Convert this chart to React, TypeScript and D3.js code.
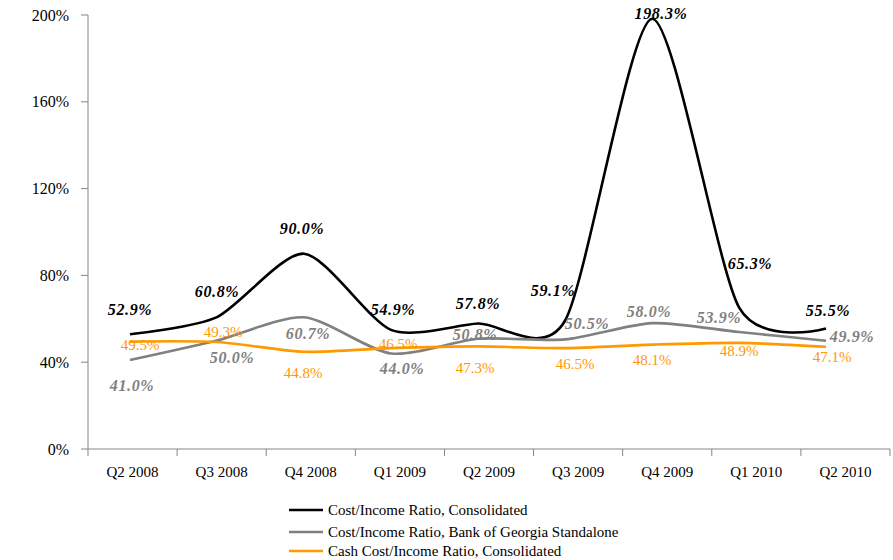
import * as d3 from 'd3';
import React from 'react';

const quarters = ['Q2 2008', 'Q3 2008', 'Q4 2008', 'Q1 2009', 'Q2 2009', 'Q3 2009', 'Q4 2009', 'Q1 2010', 'Q2 2010'];
const consolidated = [52.9, 60.8, 90.0, 54.9, 57.8, 59.1, 198.3, 65.3, 55.5];
const standalone = [41.0, 50.0, 60.7, 44.0, 50.8, 50.5, 58.0, 53.9, 49.9];
const cashConsolidated = [49.5, 49.3, 44.8, 46.5, 47.3, 46.5, 48.1, 48.9, 47.1];
const yTicks = [0, 40, 80, 120, 160, 200];

// label nudges [dx, dy] from each point
const consolidatedOffsets = [[0, -25], [0, -26], [-2, -25], [2, -20], [0, -20], [-12, -30], [9, -5], [11, -44], [2, -18]];
const standaloneOffsets = [[2, 25], [15, 17], [4, 16], [11, 15], [-3, -4], [22, -16], [-3, -12], [-20, -15], [26, -4]];
const cashOffsets = [[10, 3], [6, -10], [-1, 21], [7, -4], [-3, 21], [10, 16], [0, 15], [0, 8], [6, 10]];

const series = [
  { name: 'Cost/Income Ratio, Consolidated', values: consolidated, offsets: consolidatedOffsets, color: '#000000', bold: true },
  { name: 'Cost/Income Ratio, Bank of Georgia Standalone', values: standalone, offsets: standaloneOffsets, color: '#808080', bold: true },
  { name: 'Cash Cost/Income Ratio, Consolidated', values: cashConsolidated, offsets: cashOffsets, color: '#FF9900', bold: false },
];

const W = 893;
const H = 560;
const font = "'Liberation Serif', 'Times New Roman', serif";

const App: React.FC = () => {
  const y = d3.scaleLinear().domain([0, 200]).range([449, 15]);
  const xAxis = d3.scaleBand<string>().domain(quarters).range([88, 890]);
  const xData = d3.scalePoint<string>().domain(quarters).range([130, 826]);

  const line = d3.line<number>()
    .x((_d, i) => xData(quarters[i]) as number)
    .y((d) => y(d))
    .curve(d3.curveCardinal.tension(0.25));

  return (
    <div style={{ position: 'absolute', left: 0, top: 0 }}>
      <svg width={W} height={H} style={{ display: 'block', background: '#fff', fontFamily: font }}>
        {/* axes */}
        <line x1={88} x2={88} y1={15} y2={449} stroke="#868686" />
        <line x1={88} x2={890} y1={449} y2={449} stroke="#868686" />
        {yTicks.map((t) => (
          <g key={t}>
            <line x1={81} x2={88} y1={y(t)} y2={y(t)} stroke="#868686" />
            <text x={69} y={y(t)} dy="0.35em" textAnchor="end" fontSize={16} fill="#000" style={{ fontFamily: font }}>{t}%</text>
          </g>
        ))}
        {quarters.map((q) => (
          <line key={'t' + q} x1={xAxis(q)} x2={xAxis(q)} y1={449} y2={456} stroke="#868686" />
        ))}
        <line x1={890} x2={890} y1={449} y2={456} stroke="#868686" />
        {quarters.map((q) => (
          <text key={q} x={(xAxis(q) as number) + xAxis.bandwidth() / 2} y={472} dy="0.35em" textAnchor="middle" fontSize={15} fill="#000" style={{ fontFamily: font }}>{q}</text>
        ))}

        {/* lines */}
        {series.map((s) => (
          <path key={s.name} d={line(s.values) ?? ''} fill="none" stroke={s.color} strokeWidth={2.6} strokeLinejoin="round" />
        ))}

        {/* data labels */}
        {series.map((s) =>
          s.values.map((v, i) => (
            <text
              key={s.name + i}
              x={(xData(quarters[i]) as number) + s.offsets[i][0]}
              y={y(v) + s.offsets[i][1]}
              dy="0.35em"
              textAnchor="middle"
              fontSize={s.bold ? 16 : 15}
              fontWeight={s.bold ? 'bold' : 'normal'}
              fontStyle={s.bold ? 'italic' : 'normal'}
              letterSpacing={s.bold ? 0.6 : 0}
              fill={s.color}
              style={{ fontFamily: font }}
            >
              {v.toFixed(1)}%
            </text>
          ))
        )}

        {/* legend */}
        {series.map((s, i) => (
          <g key={'lg' + s.name} transform={`translate(289,${[510, 532, 551][i]})`}>
            <line x1={0} x2={34} y1={0} y2={0} stroke={s.color} strokeWidth={2.6} />
            <text x={39} y={0} dy="0.35em" fontSize={15} fill="#000" style={{ fontFamily: font }}>{s.name}</text>
          </g>
        ))}
      </svg>
    </div>
  );
};

export default App;
